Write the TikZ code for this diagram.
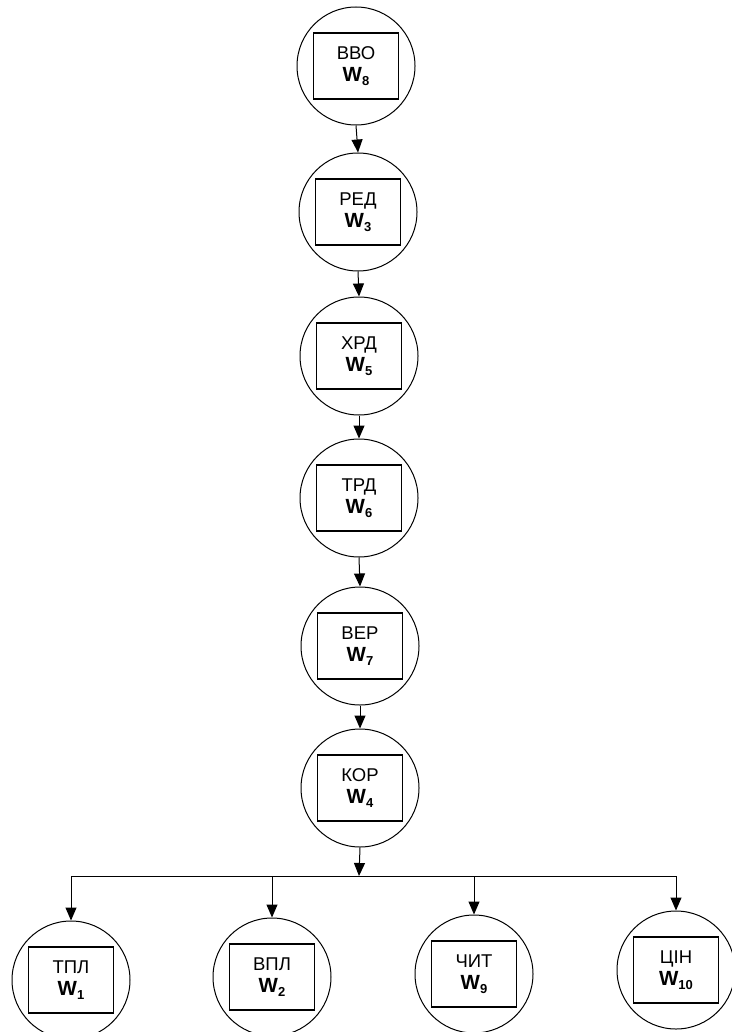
\documentclass[tikz,border=0pt]{standalone}
\usepackage{fontspec}
\setmainfont{Liberation Sans}
\usetikzlibrary{arrows.meta}
\newcommand{\lbl}[2]{#1\\{\fontsize{20.5}{22}\selectfont\bfseries W\raisebox{-3.5pt}{\fontsize{13}{13}\selectfont #2}}}
\tikzset{
  circ/.style={draw, circle, line width=1pt, minimum size=118pt, inner sep=0pt},
  wbox/.style={draw, rectangle, line width=1.3pt, minimum width=85pt, minimum height=66pt, inner sep=0pt, align=center, font=\fontsize{18.5}{22}\selectfont},
  arr/.style={line width=1pt, -{Triangle[length=13pt,width=11pt]}},
  ln/.style={line width=1pt}
}
\begin{document}
\begin{tikzpicture}[x=1pt,y=-1pt]
\useasboundingbox (0,0) rectangle (731,1032);
\node[circ] (c8) at (356,66) {};
\node[wbox] (b8) at (c8) {\lbl{ВВО}{8}};
\node[circ] (c3) at (358,212) {};
\node[wbox] (b3) at (c3) {\lbl{РЕД}{3}};
\node[circ] (c5) at (359,356) {};
\node[wbox] (b5) at (c5) {\lbl{ХРД}{5}};
\node[circ] (c6) at (359,498) {};
\node[wbox] (b6) at (c6) {\lbl{ТРД}{6}};
\node[circ] (c7) at (360,646) {};
\node[wbox] (b7) at (c7) {\lbl{ВЕР}{7}};
\node[circ] (c4) at (360,788) {};
\node[wbox] (b4) at (c4) {\lbl{КОР}{4}};
\node[circ] (c1) at (71,980) {};
\node[wbox] (b1) at (c1) {\lbl{ТПЛ}{1}};
\node[circ] (c2) at (272,977) {};
\node[wbox] (b2) at (c2) {\lbl{ВПЛ}{2}};
\node[circ] (c9) at (474,974) {};
\node[wbox] (b9) at (c9) {\lbl{ЧИТ}{9}};
\node[circ] (c10) at (676,970) {};
\node[wbox] (b10) at (c10) {\lbl{ЦІН}{10}};
\draw[arr] (c8.south) -- (c3.north);
\draw[arr] (c3.south) -- (c5.north);
\draw[arr] (c5.south) -- (c6.north);
\draw[arr] (c6.south) -- (c7.north);
\draw[arr] (c7.south) -- (c4.north);
\coordinate (j) at (359,876);
\coordinate (jl) at (71,876);
\coordinate (jr) at (676,876);
\draw[arr] (c4.south) -- (j);
\draw[ln] (jl) -- (jr);
\draw[arr] (jl) -- (c1.north);
\draw[arr] (c2.north |- j) -- (c2.north);
\draw[arr] (c9.north |- j) -- (c9.north);
\draw[arr] (jr) -- (c10.north);
\end{tikzpicture}
\end{document}
